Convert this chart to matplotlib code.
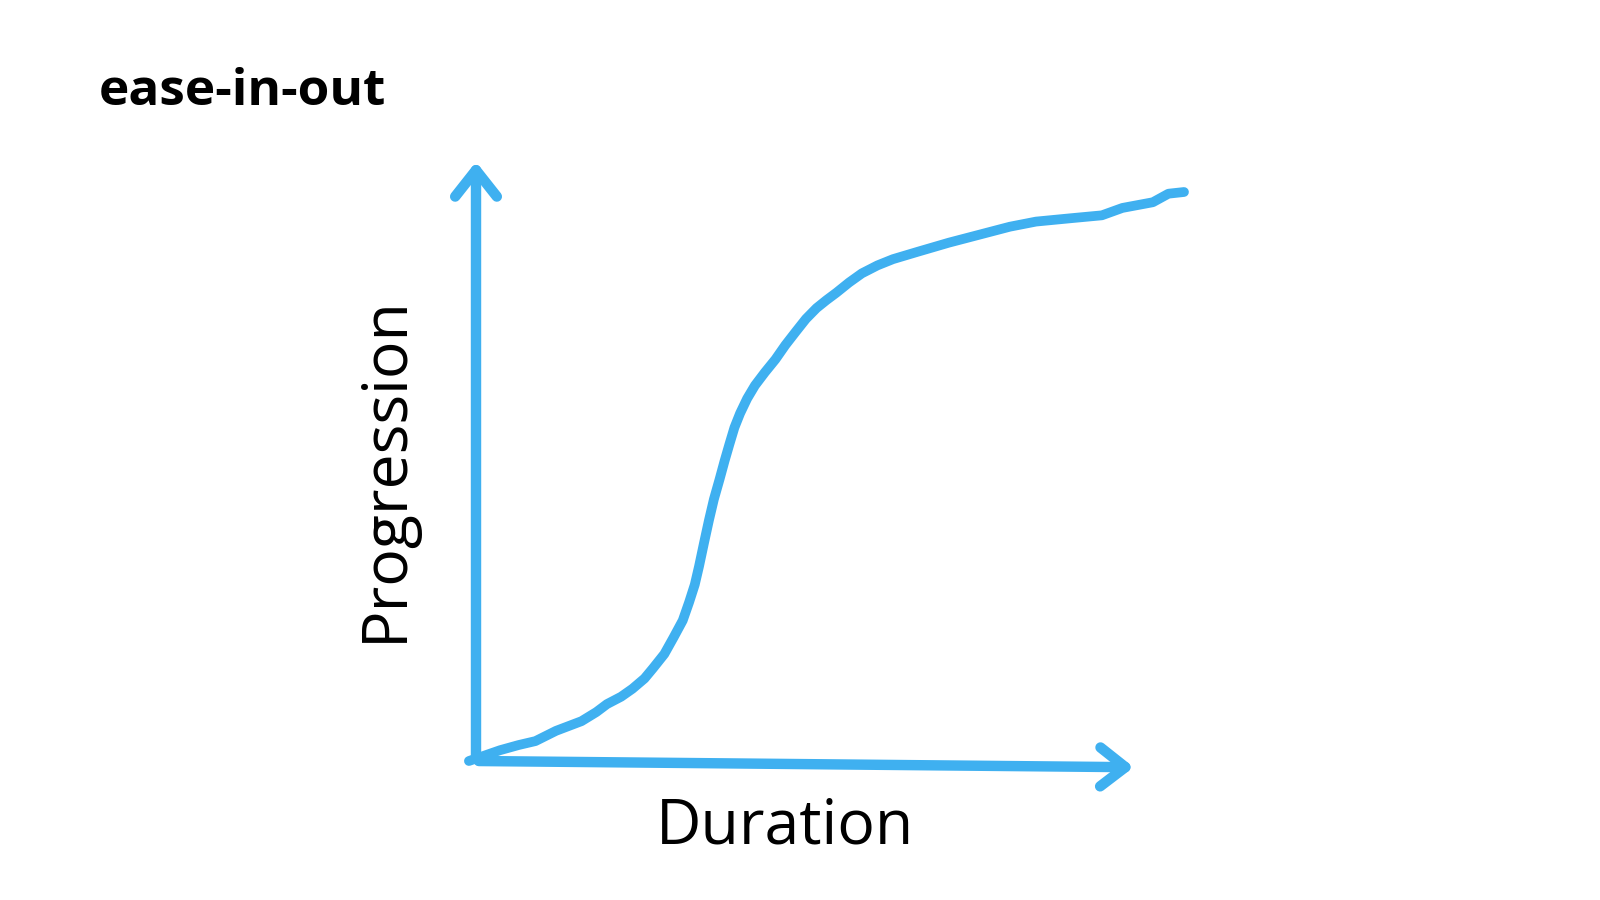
import numpy as np
import matplotlib
matplotlib.use("Agg")
import matplotlib.pyplot as plt
from matplotlib.patches import FancyArrowPatch

# ---------------------------
# data (hand-drawn ease-in-out curve)
# duration and progression in 0..1 units
# ---------------------------
duration = [-0.01, 0.034, 0.060, 0.084, 0.113, 0.149, 0.170, 0.185, 0.205, 0.221,
            0.238, 0.250, 0.266, 0.279, 0.292, 0.301, 0.309, 0.315, 0.322, 0.329,
            0.336, 0.344, 0.351, 0.358, 0.365, 0.373, 0.383, 0.394, 0.408, 0.423,
            0.437, 0.452, 0.466, 0.481, 0.495, 0.509, 0.527, 0.545, 0.567, 0.589,
            0.624, 0.668, 0.711, 0.754, 0.791, 0.841, 0.884, 0.913, 0.956, 0.978,
            1.0]
progression = [0.0, 0.019, 0.028, 0.035, 0.053, 0.070, 0.086, 0.100, 0.113, 0.127,
               0.145, 0.163, 0.188, 0.217, 0.247, 0.279, 0.310, 0.342, 0.383, 0.423,
               0.460, 0.495, 0.527, 0.557, 0.586, 0.611, 0.637, 0.660, 0.683, 0.706,
               0.731, 0.755, 0.777, 0.796, 0.810, 0.823, 0.841, 0.857, 0.871, 0.882,
               0.895, 0.911, 0.925, 0.939, 0.948, 0.954, 0.959, 0.972, 0.982, 0.997,
               1.0]

title = "ease-in-out"
x_label = "Duration"
y_label = "Progression"

blue = "#3FB0F0"

# ---------------------------
# figure
# ---------------------------
fig = plt.figure(figsize=(16, 9), dpi=100)
fig.patch.set_facecolor("white")

# axes placed so that (0,0) is the drawn origin and (1,1) is the curve end
ax = fig.add_axes([476 / 1600, (900 - 761) / 900, 708 / 1600, 569 / 900])
ax.set_xlim(0, 1)
ax.set_ylim(0, 1)
ax.axis("off")

# axis arrows
y_arrow = FancyArrowPatch((0, 0), (0, 1.058), arrowstyle="->,head_length=0.95,head_width=0.75",
                          mutation_scale=20, lw=7.5, color=blue, clip_on=False)
x_arrow = FancyArrowPatch((0, 0), (0.933, -0.011), arrowstyle="->,head_length=0.9,head_width=0.7",
                          mutation_scale=20, lw=7.5, color=blue, clip_on=False)
for arr in (y_arrow, x_arrow):
    arr.set_capstyle("round")
    arr.set_joinstyle("round")
    ax.add_patch(arr)

# curve
ax.plot(duration, progression, color=blue, lw=7, solid_capstyle="round",
        solid_joinstyle="round", clip_on=False)

# texts
fig.text(99 / 1600, 1 - 92 / 900, title, fontsize=37, fontweight="bold",
         family="Open Sans", ha="left", va="center")
fig.text(785 / 1600, 1 - 827 / 900, x_label, fontsize=45, family="Open Sans",
         ha="center", va="center")
fig.text(386 / 1600, 1 - 469 / 900, y_label, fontsize=45, family="Open Sans",
         ha="center", va="center", rotation=90)

plt.savefig("out.png", dpi=100)
